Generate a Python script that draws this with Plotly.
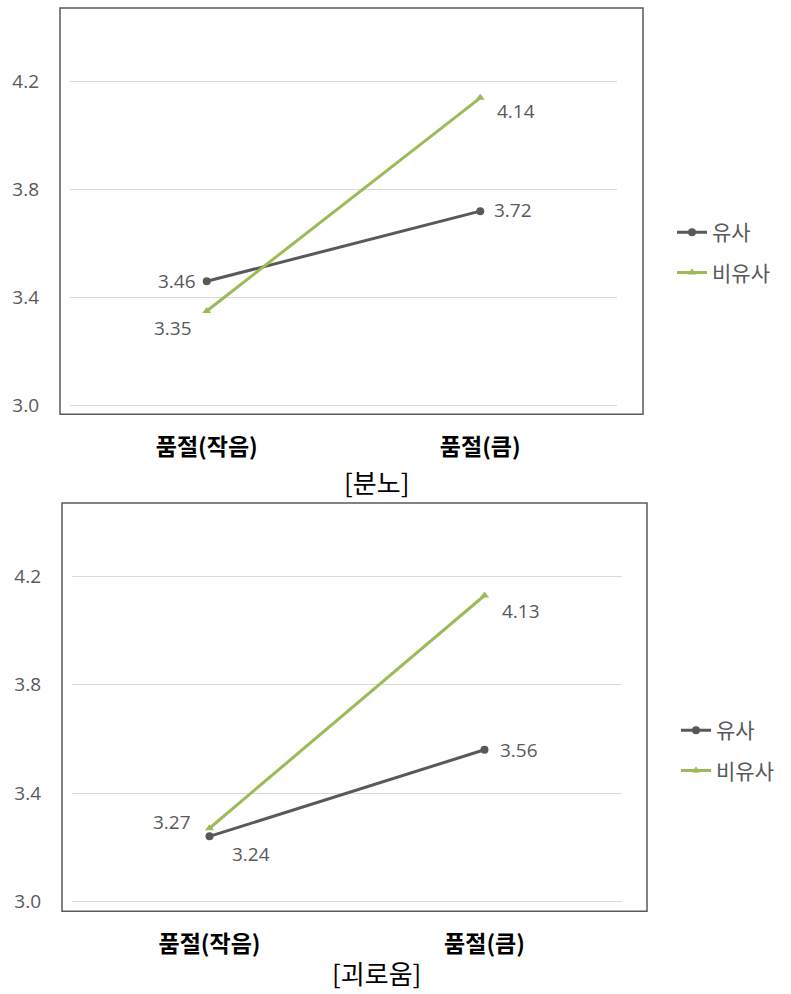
import plotly.graph_objects as go

W, H = 791, 994

categories = ["품절(작음)", "품절(큼)"]
series_names = ["유사", "비유사"]
anger_similar = [3.46, 3.72]
anger_dissimilar = [3.35, 4.14]
distress_similar = [3.24, 3.56]
distress_dissimilar = [3.27, 4.13]
panel_titles = ["[분노]", "[괴로움]"]
y_ticks = [3.0, 3.4, 3.8, 4.2]

GRAY = "#595959"
GREEN = "#9BBB59"
NUM_FONT = "Open Sans, Noto Sans, sans-serif"
KR_FONT = "Noto Sans CJK KR, sans-serif"

def px(x):
    return x / W

def py(y):
    return 1 - y / H

fig = go.Figure()

panels = [
    dict(sim=anger_similar, dis=anger_dissimilar, xa="x", ya="y", legend="legend",
         box=(60, 8, 643, 416), xdom=(70, 617), yrange=(2.967, 4.473), title_y=483,
         sim_lab=[("right", "middle", -9, 0), ("left", "middle", 12, 1)],
         dis_lab=[("right", "top", -13, -2), ("left", "top", 15, 2)]),
    dict(sim=distress_similar, dis=distress_dissimilar, xa="x2", ya="y2", legend="legend2",
         box=(62, 505, 647, 915), xdom=(72, 622), yrange=(2.963, 4.472), title_y=976,
         sim_lab=[("left", "top", 20, -3), ("left", "middle", 13, 0)],
         dis_lab=[("right", "middle", -17, 6), ("left", "top", 15, 0)]),
]

annotations = []
shapes = []
for i, p in enumerate(panels):
    fig.add_trace(go.Scatter(
        x=categories, y=p["sim"], name=series_names[0], mode="lines+markers",
        line=dict(color=GRAY, width=3), marker=dict(symbol="circle", size=8, color=GRAY),
        xaxis=p["xa"], yaxis=p["ya"], legend=p["legend"], legendgroup=f"s{i}",
        hoverinfo="skip"))
    fig.add_trace(go.Scatter(
        x=categories, y=p["dis"], name=series_names[1], mode="lines+markers",
        line=dict(color=GREEN, width=3), marker=dict(symbol="triangle-up", size=8, color=GREEN),
        xaxis=p["xa"], yaxis=p["ya"], legend=p["legend"], legendgroup=f"d{i}",
        hoverinfo="skip"))
    axsuffix = "" if i == 0 else "2"
    for vals, labs in ((p["sim"], p["sim_lab"]), (p["dis"], p["dis_lab"])):
        for c, v, (xa, ya, xs, ys) in zip(categories, vals, labs):
            annotations.append(dict(
                x=c, y=v, xref="x" + axsuffix, yref="y" + axsuffix,
                text=f"{v:.2f}", showarrow=False, xanchor=xa, yanchor=ya,
                xshift=xs, yshift=ys, font=dict(family=NUM_FONT, size=19, color=GRAY)))
    x0, y0, x1, y1 = p["box"]
    shapes.append(dict(type="rect", xref="paper", yref="paper",
                       x0=px(x0), x1=px(x1), y0=py(y1), y1=py(y0),
                       line=dict(color=GRAY, width=1.5), fillcolor="rgba(0,0,0,0)"))
    annotations.append(dict(x=px(376), y=py(p["title_y"]), xref="paper", yref="paper",
                            text=panel_titles[i], showarrow=False, xanchor="center",
                            yanchor="middle",
                            font=dict(family=KR_FONT, size=26, color="black")))

    xaxis = dict(domain=[px(p["xdom"][0]), px(p["xdom"][1])], type="category",
                 range=[-0.5, 1.5], showgrid=False, showline=False, zeroline=False,
                 ticks="", ticklabelstandoff=17,
                 tickfont=dict(family=KR_FONT, size=23, color="black", weight="bold"),
                 anchor="y" + axsuffix, fixedrange=True)
    yaxis = dict(domain=[py(y1), py(y0)], range=list(p["yrange"]), tickvals=y_ticks,
                 tickformat=".1f", showgrid=True, gridcolor="#d9d9d9", gridwidth=1,
                 zeroline=False, showline=False, ticks="", ticklabelstandoff=30,
                 tickfont=dict(family=NUM_FONT, size=19, color=GRAY),
                 anchor="x" + axsuffix, fixedrange=True)
    fig.layout["xaxis" + axsuffix] = xaxis
    fig.layout["yaxis" + axsuffix] = yaxis

legend_common = dict(xanchor="left", yanchor="top", bgcolor="rgba(0,0,0,0)",
                     font=dict(family=KR_FONT, size=21, color=GRAY),
                     tracegroupgap=10, traceorder="grouped", itemwidth=30)
fig.update_layout(
    width=W, height=H, margin=dict(l=0, r=0, t=0, b=0),
    paper_bgcolor="white", plot_bgcolor="white",
    showlegend=True,
    legend=dict(x=px(672), y=py(213), **legend_common),
    legend2=dict(x=px(676), y=py(713), **legend_common),
    annotations=annotations, shapes=shapes,
)

fig.write_html("out.html")
